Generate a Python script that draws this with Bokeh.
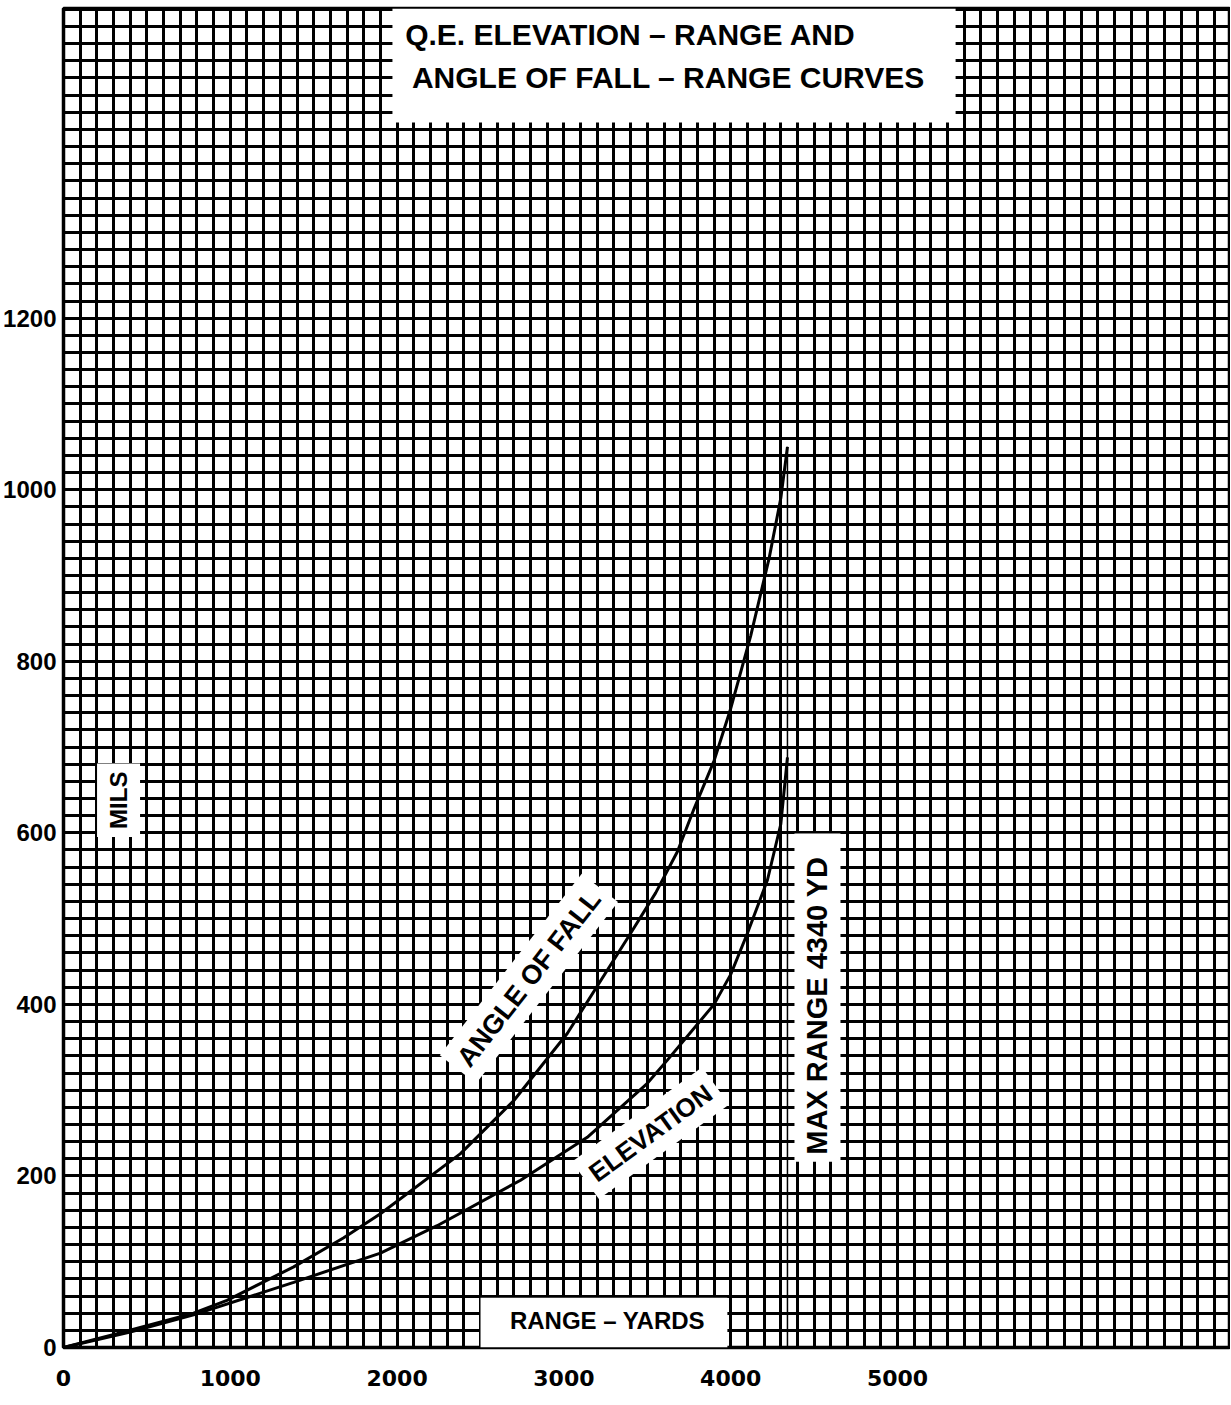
from bokeh.plotting import figure
from bokeh.models import Range1d, SingleIntervalTicker, FixedTicker, Label, BoxAnnotation
from bokeh.embed import file_html
from bokeh.resources import INLINE

# ---- data ----
angle_fall_range = [0, 320, 780, 980, 1380, 1680, 1900, 2380, 2700, 3020, 3400,
                    3550, 3680, 3780, 3900, 4000, 4120, 4230, 4300, 4340]
angle_fall_mils = [0, 16, 40, 55, 94, 128, 156, 226, 288, 366, 483,
                   530, 578, 628, 684, 745, 830, 920, 990, 1050]

elevation_range = [0, 400, 780, 1380, 1900, 2240, 2740, 3140, 3500, 3620, 3900,
                   4000, 4100, 4220, 4300, 4340]
elevation_mils = [0, 18, 38, 76, 110, 142, 195, 245, 308, 335, 400,
                  435, 483, 545, 610, 688]

max_range_yd = [4340]
max_range_top = [1050]

x_ticks = [0, 1000, 2000, 3000, 4000, 5000]
y_ticks = [0, 200, 400, 600, 800, 1000, 1200]

title_lines = ["Q.E. ELEVATION \u2013 RANGE AND", "ANGLE OF FALL \u2013  RANGE CURVES"]
x_title = "RANGE \u2013 YARDS"
y_title = "MILS"
curve_labels = ["ANGLE OF FALL", "ELEVATION"]
max_range_label = "MAX RANGE   4340 YD"

FONT = "Liberation Sans"

p = figure(width=1230, height=1395,
           x_range=Range1d(0, 6996), y_range=Range1d(0, 1561),
           output_backend="svg", toolbar_location=None,
           min_border_left=63, min_border_right=0,
           min_border_top=8, min_border_bottom=48)

p.background_fill_color = "white"
p.border_fill_color = "white"
p.outline_line_color = "black"
p.outline_line_width = 3.5

# graph-paper grid: 100 yd x 20 mils
p.xgrid.ticker = SingleIntervalTicker(interval=100)
p.ygrid.ticker = SingleIntervalTicker(interval=20)
for g in (p.xgrid, p.ygrid):
    g.grid_line_color = "black"
    g.grid_line_width = 3
    g.grid_line_alpha = 1.0

p.xaxis.ticker = FixedTicker(ticks=x_ticks)
p.yaxis.ticker = FixedTicker(ticks=y_ticks)
for ax in (p.xaxis, p.yaxis):
    ax.axis_line_color = None
    ax.major_tick_line_color = None
    ax.minor_tick_line_color = None
    ax.major_label_text_font = FONT
    ax.major_label_text_font_style = "bold"
    ax.major_label_text_color = "black"
p.xaxis.major_label_text_font = "DejaVu Sans"
p.xaxis.major_label_text_font_size = "22px"
p.xaxis.major_label_standoff = 16
p.yaxis.major_label_text_font_size = "24px"
p.yaxis.major_label_standoff = 1

# white cleared areas
p.add_layout(BoxAnnotation(left=1972, right=5348, bottom=1428, top=1561,
                           fill_color="white", fill_alpha=1.0, line_color=None))
p.add_layout(BoxAnnotation(left=2500, right=3980, bottom=0, top=58,
                           fill_color="white", fill_alpha=1.0, line_color=None))

# curves
p.line(angle_fall_range, angle_fall_mils, line_color="black", line_width=3, level="overlay")
p.line(elevation_range, elevation_mils, line_color="black", line_width=3, level="overlay")
p.segment(x0=max_range_yd, y0=[0], x1=max_range_yd, y1=max_range_top,
          line_color="black", line_width=1.5, level="overlay")

def lab(x, y, text, size, angle=0.0, pad=4, bg="white"):
    p.add_layout(Label(x=x, y=y, text=text, text_font=FONT, text_font_style="bold",
                       text_font_size=size, text_color="black",
                       text_align="center", text_baseline="middle",
                       angle=angle, background_fill_color=bg, padding=pad))

lab(3399, 1531, title_lines[0], "30px", bg=None)
lab(3651, 1480, title_lines[1], "30px", bg=None)
lab(3261, 31, x_title, "24px", bg=None)
lab(330, 638, y_title, "24px", angle=1.5708, pad=8)
lab(2790, 430, curve_labels[0], "27px", angle=0.907, pad=8)
lab(3519, 250, curve_labels[1], "26px", angle=0.628, pad=8)
lab(4520, 408, max_range_label, "29px", angle=1.5708, pad=7)

open("out.html", "w").write(file_html(p, INLINE))
